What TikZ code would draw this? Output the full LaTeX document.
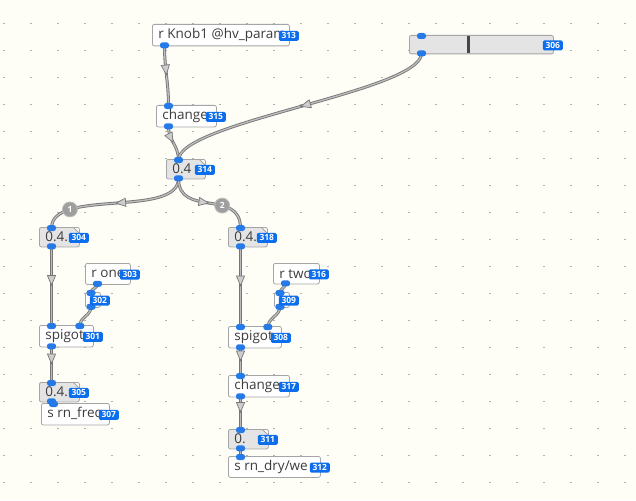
\documentclass[tikz,border=0pt]{standalone}
\usepackage{fontspec}
\setmainfont{Open Sans}
\usetikzlibrary{arrows.meta,decorations.markings}
\definecolor{bgcol}{RGB}{254,254,247}
\definecolor{dotcol}{RGB}{178,178,172}
\definecolor{boxgray}{RGB}{165,165,165}
\definecolor{atomgray}{RGB}{228,228,228}
\definecolor{textgray}{RGB}{60,60,60}
\definecolor{pdblue}{RGB}{12,110,236}
\definecolor{portblue}{RGB}{38,122,232}
\definecolor{wiredark}{RGB}{118,118,118}
\definecolor{wirelight}{RGB}{188,188,188}
\definecolor{arrowfill}{RGB}{205,205,205}
\definecolor{numgray}{RGB}{158,158,158}
\definecolor{numrim}{RGB}{190,190,190}
\definecolor{handlecol}{RGB}{70,70,70}
\pgfdeclarelayer{bg}
\pgfdeclarelayer{fg}
\pgfsetlayers{bg,main,fg}
\newcommand{\objtext}[2]{\makebox[#1pt][l]{#2}}
\begin{document}
\begin{tikzpicture}[x=1pt, y=-1pt, line join=round, line cap=round,
  obj/.style={draw=boxgray, fill=white, rounded corners=2pt, line width=0.8pt, anchor=north west,
    inner xsep=6pt, inner ysep=0pt, minimum height=21.5pt, text=textgray, font=\fontsize{13.5}{13.5}\selectfont},
  atom/.style={obj, fill=atomgray, minimum height=19.5pt, path picture={
    \fill[bgcol] ([xshift=-6pt]path picture bounding box.north east) -| ([yshift=-6pt]path picture bounding box.north east) -- cycle;
    \draw[boxgray, line width=0.8pt] ([xshift=-6pt]path picture bounding box.north east) -- ([yshift=-6pt]path picture bounding box.north east);}},
  badge/.style={fill=pdblue, rounded corners=1.5pt, inner sep=0pt, minimum width=20pt, minimum height=10pt,
    text=white, font=\fontsize{8.5}{8.5}\selectfont\bfseries},
  port/.style={fill=portblue, rounded corners=2.5pt, inner sep=0pt, minimum width=9pt, minimum height=6pt},
  ordnum/.style={circle, fill=numgray, draw=numrim, line width=0.8pt, inner sep=0pt, minimum size=15pt,
    text=white, font=\fontsize{8.5}{8.5}\selectfont\bfseries},
  plainwire/.style={draw=wirelight, line width=1.3pt, preaction={draw=wiredark, line width=3pt}},
  wire/.style={plainwire, postaction={decorate}, decoration={markings, mark=at position 0.5 with
    {\arrow[wiredark, line width=0.7pt]{Triangle[length=11pt, width=9pt, fill=arrowfill]}}}}]

\useasboundingbox (0,0) rectangle (636,500);
\begin{pgfonlayer}{bg}
  \fill[bgcol] (0,0) rectangle (636,500);
  \foreach \i in {0,...,23}
    \foreach \j in {0,...,17}
      \fill[dotcol] (3.4+27*\i, 24.4+27*\j) rectangle +(1.2,-1.2);
\end{pgfonlayer}

% boxes
\node[obj] (knob) at (152,24) {\objtext{125}{r Knob1 @hv\_param}};
\node[obj, fill=atomgray, minimum width=144pt, minimum height=18.5pt] (slider) at (409,35) {};
\draw[handlecol, line width=3pt, line cap=butt] ([xshift=59pt, yshift=-1.5pt]slider.north west) -- ([xshift=59pt, yshift=1.5pt]slider.south west);
\node[obj] (chgA) at (156,105) {\objtext{48}{change}};
\node[atom] (fA) at (166,159) {\objtext{27}{0.4}};
\node[atom] (fB) at (39,227) {\objtext{28}{0.4..}};
\node[atom] (fC) at (228,227) {\objtext{27}{0.4..}};
\node[obj, minimum height=21pt] (rone) at (85,263) {\objtext{33}{r one}};
\node[obj, minimum width=15pt, minimum height=15pt] (tA) at (85,292) {};
\node[obj] (spA) at (39,325) {\objtext{42}{spigot}};
\node[atom] (fD) at (39,382) {\objtext{28}{0.4..}};
\node[obj] (sfreq) at (41,403) {\objtext{56}{s rn\_freq}};
\node[obj, minimum height=20.5pt] (rtwo) at (273,263) {\objtext{34}{r two}};
\node[obj, minimum width=15pt, minimum height=15pt] (tB) at (274,292) {};
\node[obj] (spB) at (228,326) {\objtext{41}{spigot}};
\node[obj] (chgB) at (228,375) {\objtext{49}{change}};
\node[atom] (fE) at (228,429) {\objtext{28}{0.}};
\node[obj, minimum height=21pt] (sdry) at (228,456) {\objtext{80}{s rn\_dry/we}};

% inlets, outlets and ids
\begin{pgfonlayer}{fg}
  \foreach \n in {slider, chgA, fA, fB, fC, spA, fD, sfreq, spB, chgB, fE, sdry}
    \node[port] (\n-i) at ([xshift=12.5pt, yshift=-1pt]\n.north west) {};
  \foreach \n in {knob, slider, chgA, fA, fB, fC, rone, spA, fD, rtwo, spB, chgB, fE}
    \node[port] (\n-o) at ([xshift=12.5pt, yshift=1pt]\n.south west) {};
  \foreach \n in {tA, tB} {
    \node[port] (\n-i) at ([xshift=6pt, yshift=-1pt]\n.north west) {};
    \node[port] (\n-o) at ([xshift=6pt, yshift=1pt]\n.south west) {};
  }
  \node[port] (spA-r) at ([xshift=-14pt, yshift=-1pt]spA.north east) {};
  \node[port] (spB-r) at ([xshift=-14pt, yshift=-1pt]spB.north east) {};
  \foreach \n/\b in {knob/313, slider/306, chgA/315, fA/314, fB/304, fC/318, rone/303, tA/302, spA/301,
      fD/305, sfreq/307, rtwo/316, tB/309, spB/308, chgB/317, fE/311, sdry/312}
    \node[badge] at ([xshift=-1pt, yshift=-0.7pt]\n.east) {\b};
\end{pgfonlayer}

% wires
\draw[wire] (knob-o.center) .. controls +(0,25) and +(0,-25) .. (chgA-i.center);
\draw[wire] (chgA-o.center) .. controls +(0,15) and +(0,-15) .. (fA-i.center);
\draw[wire] (slider-o.center) .. controls +(0,38) and +(0,-38) .. (fA-i.center);
\draw[wire] (fA-o.center) .. controls +(0,40) and +(0,-40) .. (fB-i.center);
\draw[wire] (fA-o.center) .. controls +(0,40) and +(0,-40) .. (fC-i.center);
\draw[wire] (fB-o.center) -- (spA-i.center);
\draw[plainwire] (rone-o.center) .. controls +(0,5) and +(0,-5) .. (tA-i.center);
\draw[plainwire] (tA-o.center) .. controls +(0,9) and +(0,-9) .. (spA-r.center);
\draw[wire] (spA-o.center) -- (fD-i.center);
\draw[plainwire] (fD-o.center) -- (sfreq-i.center);
\draw[wire] (fC-o.center) -- (spB-i.center);
\draw[plainwire] (rtwo-o.center) .. controls +(0,5) and +(0,-5) .. (tB-i.center);
\draw[plainwire] (tB-o.center) .. controls +(0,9) and +(0,-9) .. (spB-r.center);
\draw[wire] (spB-o.center) -- (chgB-i.center);
\draw[wire] (chgB-o.center) -- (fE-i.center);
\draw[plainwire] (fE-o.center) -- (sdry-i.center);
\path (fA-o.center) .. controls +(0,40) and +(0,-40) .. (fB-i.center) node[pos=0.76, ordnum] (n1) {1};
\path (fA-o.center) .. controls +(0,40) and +(0,-40) .. (fC-i.center) node[pos=0.64, ordnum] (n2) {2};
\end{tikzpicture}
\end{document}
